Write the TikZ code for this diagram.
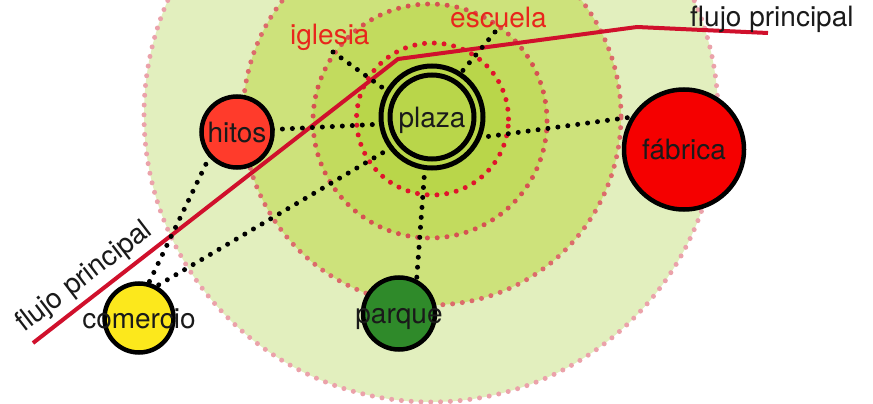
\documentclass[tikz,border=0pt]{standalone}
\usepackage{fontspec}
\setmainfont{TeX Gyre Heros}
\pgfdeclarelayer{bg}
\pgfdeclarelayer{mid}
\pgfsetlayers{bg,mid,main}
\definecolor{zoneA}{HTML}{E2EFBE}
\definecolor{zoneB}{HTML}{CDE27B}
\definecolor{zoneC}{HTML}{C2DB5E}
\definecolor{zoneD}{HTML}{B9D64A}
\definecolor{dotA}{HTML}{EBA2AA}
\definecolor{dotB}{HTML}{DC6B6B}
\definecolor{dotC}{HTML}{D65252}
\definecolor{dotD}{HTML}{E0142C}
\definecolor{flow}{HTML}{D0102C}
\definecolor{tagred}{HTML}{E8261C}
\definecolor{hitosC}{HTML}{FF3B2B}
\definecolor{fabC}{HTML}{F50000}
\definecolor{comC}{HTML}{FCE81C}
\definecolor{parC}{HTML}{2F8A2A}
\definecolor{ink}{HTML}{1A1A1A}
\begin{document}
\begin{tikzpicture}[x=1pt,y=-1pt,
  zone/.style={line width=5pt, line cap=round, dash pattern=on 0pt off 9.8pt},
  link/.style={draw=black, line width=5pt, line cap=round, dash pattern=on 0pt off 10pt},
  place/.style={circle, draw=black, line width=4.5pt, inner sep=0pt, outer sep=0pt},
  lbl/.style={font=\fontsize{28}{28}\selectfont, text=ink, inner sep=0pt, text height=20pt, text depth=0pt},
  tag/.style={font=\fontsize{28}{28}\selectfont, text=tagred, inner sep=0pt, anchor=base west},
  flowlbl/.style={font=\fontsize{28}{28}\selectfont, text=ink, inner sep=0pt, anchor=base west}]
\useasboundingbox (0,0) rectangle (873,404);

% background zones and main flow
\begin{pgfonlayer}{bg}
\begin{scope}
\clip (0,0) rectangle (873,404);
\fill[white] (0,0) rectangle (873,404);
\draw[zone, draw=dotA, fill=zoneA] (431,115) circle[radius=287pt];
\draw[zone, draw=dotB, fill=zoneB] (432,116) circle[radius=189pt];
\draw[zone, draw=dotC, fill=zoneC] (430,121) circle[radius=117pt];
\draw[zone, draw=dotD, fill=zoneD] (432.5,119) circle[radius=76pt];
\coordinate (fp1) at (33,343);
\coordinate (fp2) at (398,59);
\coordinate (fp3) at (637,27);
\coordinate (fp4) at (768,33);
\draw[flow, line width=4pt] (fp1) -- (fp2) -- (fp3) -- (fp4);
\end{scope}
\end{pgfonlayer}

% places
\node[place, line width=5pt, minimum size=102pt] (plaza) at (432,117) {};
\node[circle, draw=black, line width=5pt, inner sep=0pt, minimum size=84pt] (plazaIn) at (plaza) {};
\node[lbl] (plazaT) at (plaza) {plaza};

\node[place, fill=hitosC, minimum size=71pt] (hitos) at (237,132) {};
\node[lbl] (hitosT) at (hitos) {hitos};

\node[place, fill=fabC, minimum size=120pt] (fabrica) at (684,149.5) {};
\node[lbl] (fabricaT) at (fabrica) {fábrica};

\node[place, fill=comC, minimum size=69pt] (comercio) at (139,318) {};
\node[lbl] (comercioT) at (comercio) {comercio};

\node[place, fill=parC, minimum size=72pt] (parque) at (399,313.5) {};
\node[lbl] (parqueT) at (parque) {parque};

% labels
\node[tag] (iglesia) at (290,45) {iglesia};
\node[tag] (escuela) at (450,28) {escuela};
\node[flowlbl] (flujoB) at (690,27) {flujo principal};
\node[flowlbl, rotate=37.5] (flujoA) at (24,333) {flujo principal};
\coordinate (igl) at (333,52);
\coordinate (esc) at (495,32);

% links
\begin{pgfonlayer}{mid}
\draw[link] (hitos.4) -- (plaza.188);
\draw[link] (plaza.-24) -- (fabrica.147);
\draw[link] (igl) -- (plaza.150);
\draw[link] (esc) -- (plaza.57);
\draw[link] (plaza.-98) -- (parque.61);
\draw[link] (hitos.221) -- (comercio.75);
\draw[link] (plaza.217) -- (comercio.63);
\end{pgfonlayer}
\end{tikzpicture}
\end{document}
